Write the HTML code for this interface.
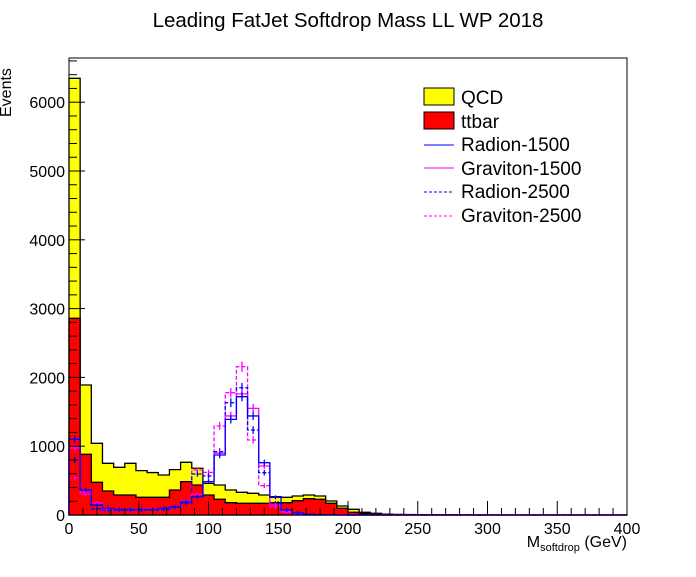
<!DOCTYPE html>
<html><head><meta charset="utf-8"><style>
body{margin:0;background:#fff;}
svg text{font-family:"Liberation Sans",sans-serif;}
</style></head><body>
<svg id="c" width="696" height="572" xmlns="http://www.w3.org/2000/svg">
<rect width="696" height="572" fill="#fff"/>
<text x="348" y="27" font-size="20.5" text-anchor="middle">Leading FatJet Softdrop Mass LL WP 2018</text>
<text transform="translate(11,117) rotate(-90)" font-size="16">Events</text>
<text x="627" y="547" font-size="16" text-anchor="end">M<tspan font-size="11" dy="4">softdrop</tspan><tspan dy="-4"> (GeV)</tspan></text>
<g id="plot"></g>
<g id="legend">
<rect x="424" y="88" width="30" height="17" fill="#ff0" stroke="#000"/>
<text x="461" y="104" font-size="19">QCD</text>
<rect x="424" y="112" width="30" height="17" fill="#f00" stroke="#000"/>
<text x="461" y="128" font-size="19">ttbar</text>
<line x1="424" x2="454" y1="145" y2="145" stroke="#00f"/>
<text x="461" y="151" font-size="19">Radion-1500</text>
<line x1="424" x2="454" y1="168" y2="168" stroke="#f0f"/>
<text x="461" y="175" font-size="19">Graviton-1500</text>
<line x1="424" x2="454" y1="192" y2="192" stroke="#00f" stroke-dasharray="3,2"/>
<text x="461" y="198" font-size="19">Radion-2500</text>
<line x1="424" x2="454" y1="216" y2="216" stroke="#f0f" stroke-dasharray="3,2"/>
<text x="461" y="222" font-size="19">Graviton-2500</text>
</g>
</svg>
<script>
const binEdgesStart = 0, binWidth = 8;
const totalStack = [6347,1890,1042,751,693,751,645,617,581,659,766,679,460,436,363,330,315,291,266,257,276,291,276,203,131,83,39,25,12,8,6,5,4,3,3,2,2,2,1,1,1,1,1,1,1,1,1,1,1,1];
const ttbar = [2859,882,475,349,291,291,257,257,257,363,485,436,291,228,179,170,170,170,179,179,208,237,228,170,97,39,20,10,5,3,2,2,1,1,1,1,1,1,0,0,0,0,0,0,0,0,0,0,0,0];
const radion1500 = [1100,363,145,100,80,80,80,80,100,120,190,266,485,872,1390,1720,1440,760,257,73,30,10,5,3,2,1,1,0,0,0,0,0,0,0,0,0,0,0,0,0,0,0,0,0,0,0,0,0,0,0];
const graviton1500 = [975,334,174,90,80,80,80,80,100,120,200,300,485,897,1440,1760,1550,712,145,50,20,8,4,2,1,1,0,0,0,0,0,0,0,0,0,0,0,0,0,0,0,0,0,0,0,0,0,0,0,0];
const radion2500 = [800,350,90,70,70,70,70,70,80,110,170,596,567,920,1632,1850,1235,615,174,60,20,8,4,2,1,1,0,0,0,0,0,0,0,0,0,0,0,0,0,0,0,0,0,0,0,0,0,0,0,0];
const graviton2500 = [540,300,90,70,70,70,70,70,80,110,200,654,620,1294,1778,2156,1090,426,120,40,15,6,3,2,1,0,0,0,0,0,0,0,0,0,0,0,0,0,0,0,0,0,0,0,0,0,0,0,0,0];
const xTicks = [0,50,100,150,200,250,300,350,400];
const yTicks = [0,1000,2000,3000,4000,5000,6000];

const L=69,R=627,T=58,B=515;
const sx=v=>L+(v-0)*(R-L)/400;
const sy=v=>B-Math.max(0,v)*0.0688;
const NS="http://www.w3.org/2000/svg";
const g=document.getElementById('plot');
function mk(tag,attrs){const e=document.createElementNS(NS,tag);for(const k in attrs)e.setAttribute(k,attrs[k]);g.appendChild(e);return e;}
function histPath(arr){let d=`M${sx(0)},${B}`;arr.forEach((v,i)=>{const x0=sx(binEdgesStart+i*binWidth),x1=sx(binEdgesStart+(i+1)*binWidth);d+=`L${x0},${sy(v)}L${x1},${sy(v)}`;});d+=`L${sx(400)},${B}`;return d;}
function fillHist(arr,color,name){
  const p=mk('path',{d:histPath(arr)+'Z',fill:color,stroke:'#000','stroke-width':1.3});
  
  
}
fillHist(totalStack,'#ff0','qcd-stack');
fillHist(ttbar,'#f00','ttbar-stack');
function lineHist(arr,color,dash,name){
  const p=mk('path',{d:histPath(arr),fill:'none',stroke:color,'stroke-width':1.3,'stroke-dasharray':dash});
  
  
  arr.forEach((v,i)=>{if(v<30)return;const xc=sx((i+0.5)*binWidth);const e=Math.max(2,Math.sqrt(v)*0.0688*1.6);
    const b=mk('line',{x1:xc,x2:xc,y1:sy(v)-e,y2:sy(v)+e,stroke:color,'stroke-width':1.3});
    
    
  });
}
lineHist(graviton2500,'#f0f','4,2','graviton-2500-line');
lineHist(radion2500,'#00f','4,2','radion-2500-line');
lineHist(graviton1500,'#f0f','none','graviton-1500-line');
lineHist(radion1500,'#00f','none','radion-1500-line');
const fr=mk('rect',{x:L,y:T,width:R-L,height:B-T,fill:'none',stroke:'#000','stroke-width':1});


for(let v=0;v<=400;v+=10){const major=v%50===0;const t=mk('line',{x1:sx(v),x2:sx(v),y1:B,y2:B-(major?14:7),stroke:'#000'});
  
  }
xTicks.forEach(v=>{const t=mk('text',{x:sx(v),y:B+19,'font-size':16,'text-anchor':'middle'});t.textContent=v;
  
  });
for(let v=0;v<=6600;v+=200){const major=v%1000===0;const t=mk('line',{x1:L,x2:L+(major?16:8),y1:sy(v),y2:sy(v),stroke:'#000'});
  
  }
yTicks.forEach(v=>{const t=mk('text',{x:L-4,y:sy(v)+6,'font-size':16,'text-anchor':'end'});t.textContent=v;
  
  });
</script>
</body></html>
